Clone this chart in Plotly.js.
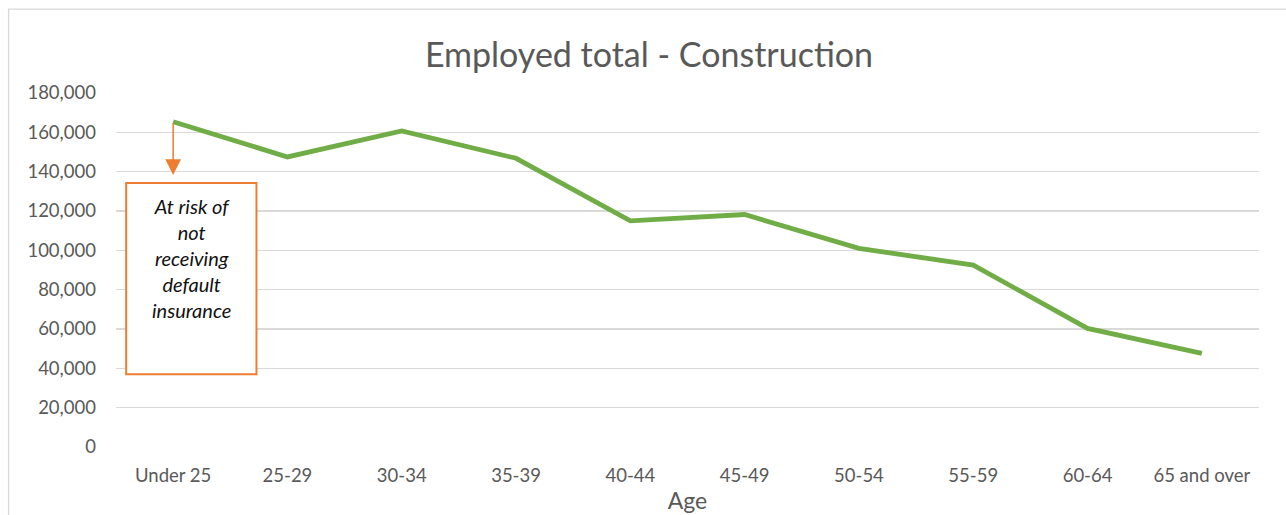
<!DOCTYPE html>
<html>
<head>
<meta charset="utf-8">
<script src="https://cdn.plot.ly/plotly-3.0.1.min.js"></script>
<style>html,body{margin:0;padding:0;background:#fff;}#chart{width:1286px;height:515px;}</style>
</head>
<body>
<div id="chart"></div>
<script>
// Data
const categories = ['Under 25','25-29','30-34','35-39','40-44','45-49','50-54','55-59','60-64','65 and over'];
const employed = [165400, 147500, 160700, 146800, 115000, 118200, 101000, 92500, 60300, 47600];
const yTickVals = [0,20000,40000,60000,80000,100000,120000,140000,160000,180000];
const yTickText = ['0','20,000','40,000','60,000','80,000','100,000','120,000','140,000','160,000','180,000'];
const noteText = 'At risk of<br>not<br>receiving<br>default<br>insurance';

const GREEN = '#70AD47', ORANGE = '#ED7D31', GREY = '#595959';
const FONT = 'Lato, "Open Sans", sans-serif';

const trace = {
  type: 'scatter', mode: 'lines',
  x: categories.map((c,i)=>i), y: employed,
  line: {color: GREEN, width: 4.8},
  hoverinfo: 'skip'
};

const layout = {
  width: 1286, height: 515,
  margin: {l: 115.5, r: 27, t: 93, b: 68},
  paper_bgcolor: '#fff', plot_bgcolor: '#fff',
  showlegend: false,
  font: {family: FONT, color: GREY},
  title: {text: 'Employed total - Construction', font: {family: FONT, size: 34, color: GREY},
          x: 649/1286, xanchor: 'center', xref: 'container', y: 1 - 55/515, yanchor: 'middle', yref: 'container'},
  xaxis: {
    range: [-0.5, categories.length - 0.5],
    tickvals: categories.map((c,i)=>i), ticktext: categories,
    showgrid: false, zeroline: false, showline: false, ticks: '',
    tickfont: {family: FONT, size: 18.5, color: GREY},
    ticklabelstandoff: 15,
    title: {text: 'Age', font: {family: FONT, size: 23, color: GREY}, standoff: 8},
    fixedrange: true
  },
  yaxis: {
    range: [0, 180000],
    tickvals: yTickVals, ticktext: yTickText,
    showgrid: true, gridcolor: '#D9D9D9', gridwidth: 1.3,
    zeroline: false, showline: false, ticks: '',
    tickfont: {family: FONT, size: 18.5, color: GREY},
    ticklabelstandoff: 19,
    fixedrange: true
  },
  shapes: [
    {type: 'rect', xref: 'paper', yref: 'paper', x0: -0.094, x1: 1.2, y0: -0.5, y1: 1.237,
     line: {color: '#D9D9D9', width: 1.3}, fillcolor: 'rgba(0,0,0,0)', layer: 'below'},
    {type: 'rect', xref: 'x', yref: 'y', x0: -0.411, x1: 0.729, y0: 37000, y1: 134300,
     line: {color: ORANGE, width: 2}, fillcolor: '#fff', layer: 'above'}
  ],
  annotations: [
    {xref: 'x', yref: 'y', x: 0.159, y: 129500, text: noteText, showarrow: false,
     xanchor: 'center', yanchor: 'top', align: 'center',
     font: {family: FONT, size: 20, color: '#111111', style: 'italic'}},
    {xref: 'x', yref: 'y', x: 0, y: 138300, axref: 'x', ayref: 'y', ax: 0, ay: employed[0],
     text: '', showarrow: true, arrowhead: 2, arrowsize: 2.1, arrowwidth: 1.5, arrowcolor: ORANGE, standoff: 0}
  ]
};

Plotly.newPlot('chart', [trace], layout, {displayModeBar: false, staticPlot: true});
</script>
</body>
</html>
